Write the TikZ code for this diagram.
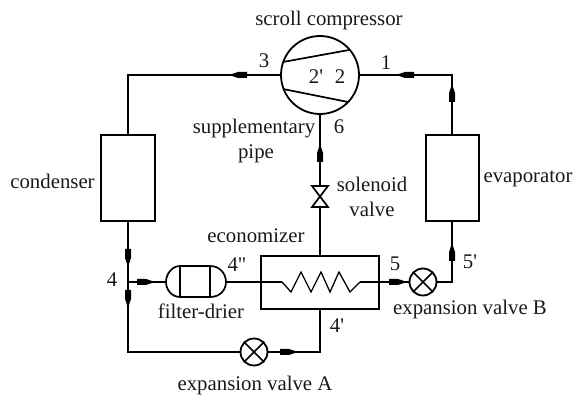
\documentclass[tikz,border=0pt]{standalone}
\usepackage{fontspec}
\setmainfont{Liberation Serif}
\usetikzlibrary{calc}
\tikzset{
  x=1pt,y=-1pt,
  pipe/.style={line width=1.7pt,line join=miter},
  thinpipe/.style={line width=1.3pt},
  unitbox/.style={draw,line width=1.7pt,rectangle,inner sep=0pt,fill=none},
  valvecirc/.style={draw,line width=1.8pt,circle,inner sep=0pt,minimum size=27pt},
  lab/.style={font=\fontsize{20.8}{22}\selectfont,anchor=base,inner sep=0pt,text=black!90},
  flowmark/.pic={\fill[black] (-7,-3) -- (2,-3) -- (8,-1) -- (8,1) -- (2,3) -- (-7,3) -- cycle;},
}
\begin{document}
\begin{tikzpicture}
\useasboundingbox (0,0) rectangle (574,395);
% equipment
\node[circle,draw,line width=1.8pt,inner sep=0pt,minimum size=78pt] (comp) at (320,75) {};
\node[unitbox,minimum width=54pt,minimum height=86pt] (cond) at (128,178) {};
\node[unitbox,minimum width=53pt,minimum height=86pt] (evap) at (452.5,178) {};
\node[unitbox,minimum width=118pt,minimum height=53pt] (econ) at (320,282.5) {};
\node[valvecirc] (va) at (254,352) {};
\node[valvecirc] (vb) at (423,282) {};
\coordinate (sol) at (320,197);
\coordinate (fl) at (166,282);
\coordinate (fr) at (226,282);
\coordinate (j4) at (128,282);
\coordinate (cl) at (128,75);
\coordinate (cr) at (452,75);
\coordinate (bl) at (128,352);
\coordinate (br) at (320,352);
\coordinate (vbr) at (452,282);
\coordinate (z0) at (282,282);
\coordinate (z1) at (360,282);
% compressor inner lines
\draw[pipe] (283,62) -- (349,50);
\draw[pipe] (283,89) -- (348,102);
% pipes
\draw[pipe] (comp.west) -- (cl) -- (cond.north -| cl);
\draw[pipe] (comp.east) -- (cr) -- (evap.north -| cr);
\draw[pipe] (comp.south) -- (sol);
\draw[pipe] (sol) -- (econ.north);
\draw[pipe] (cond.south -| bl) -- (bl) -- (va.west);
\draw[pipe] (va.east) -- (br) -- (econ.south);
\draw[pipe] (vb.east) -- (vbr) -- (evap.south -| vbr);
\draw[thinpipe] (j4) -- (fl);
\draw[thinpipe] (fr) -- (z0);
\draw[thinpipe] (z0) -- (291,292) -- (301,272) -- (311,292) -- (321,272) -- (330,292) -- (339,272) -- (350,292) -- (z1);
\draw[thinpipe] (z1) -- (vb.west);
% valve crosses
\draw[pipe] (va.45) -- (va.225) (va.135) -- (va.315);
\draw[pipe] (vb.45) -- (vb.225) (vb.135) -- (vb.315);
% solenoid valve
\fill[white] ($(sol)+(-8,-11)$) rectangle ($(sol)+(8,10)$);
\draw[pipe] ($(sol)+(-8,-11)$) -- ($(sol)+(8,-11)$) -- ($(sol)+(-8,10)$) -- ($(sol)+(8,10)$) -- cycle;
% filter-drier
\draw[pipe] (180,266) -- (210,266) .. controls (220,266) and (226,274) .. (fr) .. controls (226,290) and (220,297) .. (210,297) -- (180,297) .. controls (172,297) and (166,290) .. (fl) .. controls (166,274) and (172,266) .. (180,266);
\draw[pipe] (180,266) -- (180,297) (210,266) -- (210,297);
% flow marks
\pic[rotate=180] at (240,75) {flowmark};
\pic[rotate=180] at (407,75) {flowmark};
\pic[rotate=90] at (320,155) {flowmark};
\pic[rotate=90] at (452,95) {flowmark};
\pic[rotate=90] at (452,254) {flowmark};
\pic at (144,282) {flowmark};
\pic at (287,352) {flowmark};
\pic at (396,282) {flowmark};
\pic[rotate=-90] at (128,256) {flowmark};
\pic[rotate=-90] at (128,297) {flowmark};
% labels
\node[lab] (t1) at (329,26) {scroll compressor};
\node[lab] (t2) at (264,68) {3};
\node[lab] (t3) at (386,70) {1};
\node[lab] (t4) at (316,84) {2\textquotesingle};
\node[lab] (t5) at (340,84) {2};
\node[lab] (t6) at (254,134) {supplementary};
\node[lab] (t7) at (256,159) {pipe};
\node[lab] (t8) at (339,134) {6};
\node[lab] (t9) at (52.5,189) {condenser};
\node[lab] (t10) at (528,183) {evaporator};
\node[lab] (t11) at (372,192) {solenoid};
\node[lab] (t12) at (372,217) {valve};
\node[lab] (t13) at (256,243) {economizer};
\node[lab] (t14) at (112,287) {4};
\node[lab] (t15) at (237,272) {4\textquotedbl};
\node[lab] (t16) at (201,319) {filter-drier};
\node[lab] (t17) at (337,333) {4\textquotesingle};
\node[lab] (t18) at (395,271) {5};
\node[lab] (t19) at (470,269) {5\textquotesingle};
\node[lab] (t20) at (470,315) {expansion valve B};
\node[lab] (t21) at (255,391) {expansion valve A};
\end{tikzpicture}
\end{document}
